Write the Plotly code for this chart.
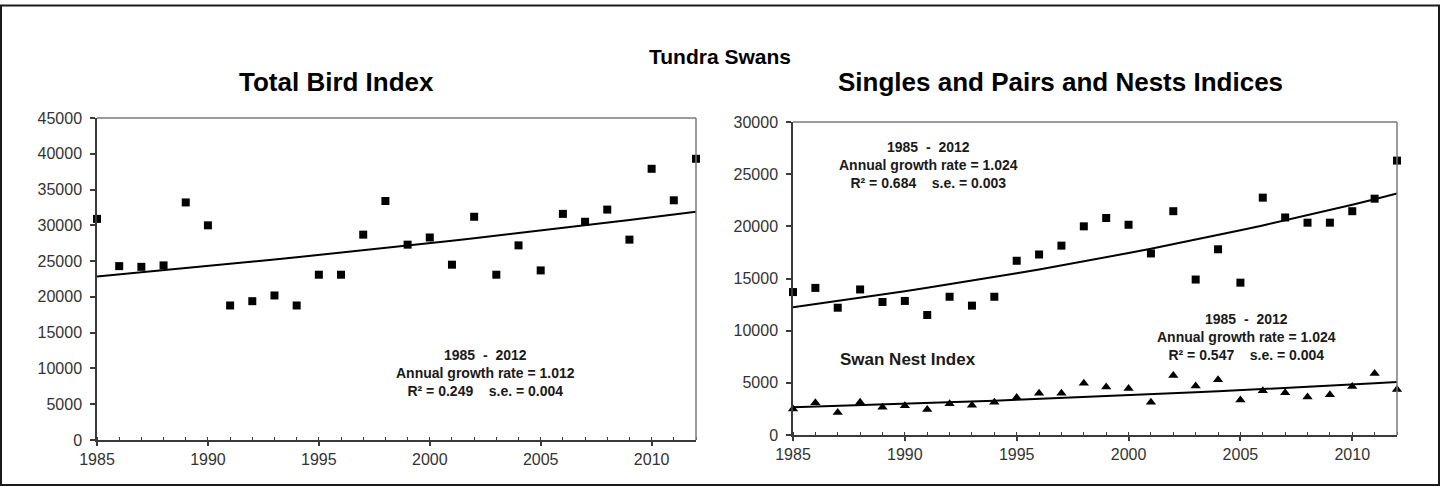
import numpy as np
import plotly.graph_objects as go

years = list(range(1985, 2013))
total_bird = [30900, 24300, 24200, 24400, 33200, 30000, 18800, 19400, 20200, 18800,
              23100, 23100, 28700, 33400, 27300, 28300, 24500, 31200, 23100, 27200,
              23700, 31600, 30500, 32200, 28000, 37900, 33500, 39300]
singles_pairs = [13700, 14100, 12200, 13950, 12750, 12850, 11500, 13250, 12400, 13250,
                 16700, 17300, 18150, 20000, 20800, 20150, 17400, 21450, 14900, 17800,
                 14600, 22750, 20850, 20350, 20350, 21450, 22650, 26300]
nests = [2500, 3100, 2150, 3150, 2650, 2800, 2450, 3000, 2850, 3150,
         3600, 4000, 4000, 4950, 4600, 4450, 3150, 5700, 4700, 5300,
         3350, 4250, 4050, 3650, 3850, 4650, 5900, 4350]

x_ticks = [1985, 1990, 1995, 2000, 2005, 2010]
left_yticks = list(range(0, 45001, 5000))
right_yticks = list(range(0, 30001, 5000))

main_title = "Tundra Swans"
left_title = "Total Bird Index"
right_title = "Singles and Pairs and Nests Indices"
left_stats = ["1985  -  2012", "Annual growth rate = 1.012", "R² = 0.249    s.e. = 0.004"]
sp_stats = ["1985  -  2012", "Annual growth rate = 1.024", "R² = 0.684    s.e. = 0.003"]
nest_stats = ["1985  -  2012", "Annual growth rate = 1.024", "R² = 0.547    s.e. = 0.004"]
nest_label = "Swan Nest Index"


def exp_fit(x, y):
    x = np.asarray(x, float)
    b, a = np.polyfit(x - x[0], np.log(np.asarray(y, float)), 1)
    return list(np.exp(a + b * (x - x[0])))


W, H = 1440, 486
FONT = "Liberation Sans, Arial, sans-serif"


def px(xp):
    return xp / W


def py(yp):
    return 1 - yp / H


fig = go.Figure()

# left panel
fig.add_trace(go.Scatter(x=years, y=exp_fit(years, total_bird), mode="lines",
                         line=dict(color="black", width=2), xaxis="x", yaxis="y",
                         hoverinfo="skip"))
fig.add_trace(go.Scatter(x=years, y=total_bird, mode="markers",
                         marker=dict(symbol="square", size=8, color="black"),
                         xaxis="x", yaxis="y", cliponaxis=False))
# right panel
fig.add_trace(go.Scatter(x=years, y=exp_fit(years, singles_pairs), mode="lines",
                         line=dict(color="black", width=2), xaxis="x2", yaxis="y2",
                         hoverinfo="skip"))
fig.add_trace(go.Scatter(x=years, y=exp_fit(years, nests), mode="lines",
                         line=dict(color="black", width=2), xaxis="x2", yaxis="y2",
                         hoverinfo="skip"))
fig.add_trace(go.Scatter(x=years, y=singles_pairs, mode="markers",
                         marker=dict(symbol="square", size=8, color="black"),
                         xaxis="x2", yaxis="y2", cliponaxis=False))
fig.add_trace(go.Scatter(x=years, y=nests, mode="markers",
                         marker=dict(symbol="triangle-up", size=9, color="black"),
                         xaxis="x2", yaxis="y2", cliponaxis=False))

axis_common = dict(showgrid=False, zeroline=False, showline=True, linecolor="#3a3a3a",
                   linewidth=1.5, tickcolor="#3a3a3a", tickwidth=1.5, automargin=False,
                   tickfont=dict(family=FONT, size=16, color="#333333"), fixedrange=True)

xaxis_common = dict(axis_common, range=[1985, 2012], tickvals=x_ticks, ticks="outside",
                    ticklen=4, tickformat="d",
                    minor=dict(dtick=1, tick0=1985, ticks="inside", ticklen=3,
                               tickcolor="#3a3a3a", tickwidth=1.2))

fig.update_layout(
    width=W, height=H,
    margin=dict(l=0, r=0, t=0, b=0),
    paper_bgcolor="white", plot_bgcolor="white",
    showlegend=False,
    xaxis=dict(xaxis_common, domain=[px(97), px(696)], anchor="y"),
    yaxis=dict(axis_common, domain=[py(440), py(118)], range=[0, 45000],
               tickvals=left_yticks, tickformat="d", ticks="outside", ticklen=5,
               ticklabelstandoff=5, anchor="x"),
    xaxis2=dict(xaxis_common, domain=[px(793), px(1397)], anchor="y2"),
    yaxis2=dict(axis_common, domain=[py(435), py(122)], range=[0, 30000],
                tickvals=right_yticks, tickformat="d", ticks="outside", ticklen=5,
                ticklabelstandoff=5, anchor="x2"),
)

# top/right frame lines (gray)
for xr, yr in (("x domain", "y domain"), ("x2 domain", "y2 domain")):
    fig.add_shape(type="line", xref=xr, yref=yr, x0=0, x1=1, y0=1, y1=1,
                  line=dict(color="#7a7a7a", width=1.5))
    fig.add_shape(type="line", xref=xr, yref=yr, x0=1, x1=1, y0=0, y1=1,
                  line=dict(color="#7a7a7a", width=1.5))

# outer border
fig.add_shape(type="rect", xref="paper", yref="paper", x0=px(1), x1=px(1439),
              y0=py(485), y1=py(5.5), line=dict(color="#1a1a1a", width=2))


def text(xp, yp, s, size, color="black"):
    fig.add_annotation(x=px(xp), y=py(yp), xref="paper", yref="paper",
                       text="<br>".join(f"<b>{t}</b>" for t in s) if isinstance(s, list) else f"<b>{s}</b>",
                       showarrow=False, xanchor="center", yanchor="middle", align="center",
                       font=dict(family=FONT, size=size, color=color))


text(720, 57, main_title, 21)
text(336, 82, left_title, 26)
text(1060, 82, right_title, 26)

text(485, 372.5, left_stats, 14, "#1a1a1a")
text(928, 165, sp_stats, 14, "#1a1a1a")
text(1246, 337, nest_stats, 14, "#1a1a1a")
text(908, 359, nest_label, 17, "#1a1a1a")

fig.write_html("out.html")
